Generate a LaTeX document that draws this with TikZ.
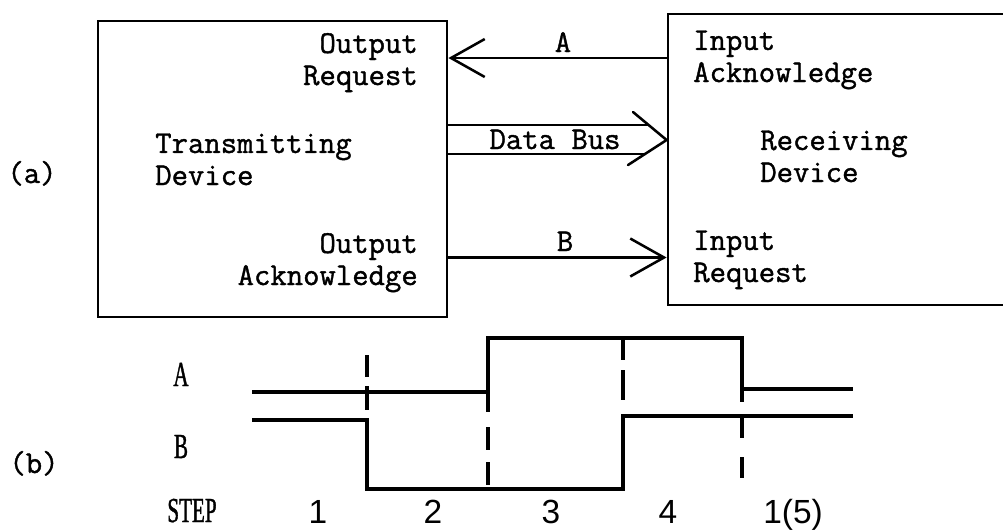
\documentclass[tikz,border=0pt]{standalone}
\usepackage{fontspec}
\setmonofont{Latin Modern Mono}[FakeBold=1.2]
\newfontfamily\lblfont{Liberation Serif}[FakeStretch=0.6,FakeBold=1]
\newfontfamily\digfont{Liberation Sans}
\usetikzlibrary{arrows.meta,fit}
\begin{document}
\begin{tikzpicture}[x=0.025cm,y=-0.025cm,
  box/.style={draw, line width=2pt, inner sep=0pt},
  tw/.style={font=\fontsize{22.6pt}{22.8pt}\selectfont\ttfamily, inner sep=0pt},
  sig/.style={line width=2.2pt},
  lbl/.style={font=\fontsize{25pt}{26pt}\selectfont\lblfont, inner sep=0pt},
  dig/.style={font=\fontsize{23.8pt}{24pt}\selectfont\digfont, inner sep=0pt},
  wire/.style={line width=1.8pt},
  conn/.style={wire, -{Straight Barb[length=24pt,width=27pt]}},
]
\useasboundingbox (0,0) rectangle (1003,529);
\clip (0,0) rectangle (1003,529);

% (a) block diagram
\node[box, fit={(98,21) (447,317)}] (tx) {};
\node[box, fit={(668,14) (1060,305)}] (rx) {};

% multi-line nodes: base anchor is the baseline of the last line
\node[tw, anchor=base east, align=right] (oreq) at (418,85) {Output\\Request};
\node[tw, anchor=base west, align=left] (tdev) at (155,185) {Transmitting\\Device};
\node[tw, anchor=base east, align=right] (oack) at (418,285) {Output\\Acknowledge};
\node[tw, anchor=base west, align=left] (iack) at (693,82) {Input\\Acknowledge};
\node[tw, anchor=base west, align=left] (rdev) at (760,182) {Receiving\\Device};
\node[tw, anchor=base west, align=left] (ireq) at (693,282) {Input\\Request};
\node[tw, anchor=base] (la) at (32,183) {(a)};
\node[tw, anchor=base] (lb) at (34,473) {(b)};

% A connector
\draw[conn] (rx.west |- 0,58) -- (tx.east |- 0,58);
\node[tw, anchor=base] (lA) at (563,52) {A};

% Data bus
\coordinate (dbtip) at (rx.west |- 0,140);
\coordinate (dbtop) at (633,112);
\coordinate (dbbot) at (628,165);
\coordinate (dbe1) at (649,125);
\coordinate (dbe2) at (646,154);
\draw[wire] (tx.east |- dbe1) -- (dbe1);
\draw[wire] (tx.east |- dbe2) -- (dbe2);
\draw[wire, line cap=round] (dbtop) -- (dbtip) -- (dbbot);
\node[tw, anchor=base] (dbl) at (555,149) {Data Bus};

% B connector
\draw[conn] (tx.east |- 0,257.5) -- (rx.west |- 0,257.5);
\node[tw, anchor=base] (lB) at (565,251) {B};

% (b) timing diagram
\draw[sig] (252,392) -- (488,392) -- (488,338) -- (742,338) -- (742,389) -- (853,389);
\draw[sig] (252,420) -- (367,420) -- (367,489) -- (623,489) -- (623,416) -- (853,416);
\draw[sig] (367,355) -- (367,377) (367,386) -- (367,410);
\draw[sig] (488,392) -- (488,412) (488,427) -- (488,450) (488,462) -- (488,485);
\draw[sig] (623,338) -- (623,360) (623,370) -- (623,400);
\draw[sig] (742,389) -- (742,402) (742,418) -- (742,438) (742,457) -- (742,478);

\node[lbl, anchor=base] (tA) at (181,386) {A};
\node[lbl, anchor=base] (tB) at (181,458) {B};
\node[lbl, anchor=base] (tstep) at (192,522) {STEP};
\node[dig, anchor=base] (s1) at (318,523) {1};
\node[dig, anchor=base] (s2) at (433,523) {2};
\node[dig, anchor=base] (s3) at (551,523) {3};
\node[dig, anchor=base] (s4) at (668,523) {4};
\node[dig, anchor=base] (s5) at (793,523) {1(5)};
\end{tikzpicture}
\end{document}
